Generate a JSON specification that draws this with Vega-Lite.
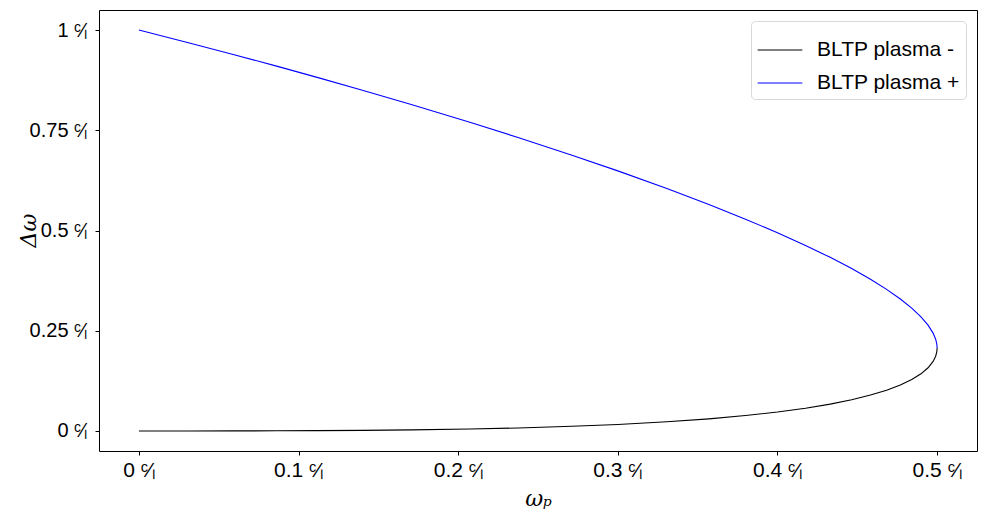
{
  "$schema": "https://vega.github.io/schema/vega-lite/v6.json",
  "width": 878,
  "height": 441,
  "autosize": {"type": "none"},
  "padding": {"left": 99, "top": 10, "right": 20, "bottom": 61},
  "background": "white",
  "config": {
    "view": {"stroke": "black", "strokeWidth": 1},
    "font": "Liberation Sans"
  },
  "datasets": {
    "curves": [
      {"series": "BLTP plasma +", "x": 0, "y": 1},
      {"series": "BLTP plasma +", "x": 0.031607, "y": 0.967893},
      {"series": "BLTP plasma +", "x": 0.059057, "y": 0.939192},
      {"series": "BLTP plasma +", "x": 0.086277, "y": 0.909966},
      {"series": "BLTP plasma +", "x": 0.111102, "y": 0.882628},
      {"series": "BLTP plasma +", "x": 0.14, "y": 0.849949},
      {"series": "BLTP plasma +", "x": 0.170587, "y": 0.814299},
      {"series": "BLTP plasma +", "x": 0.207304, "y": 0.769937},
      {"series": "BLTP plasma +", "x": 0.237487, "y": 0.732049},
      {"series": "BLTP plasma +", "x": 0.271293, "y": 0.687873},
      {"series": "BLTP plasma +", "x": 0.3, "y": 0.648683},
      {"series": "BLTP plasma +", "x": 0.330719, "y": 0.604695},
      {"series": "BLTP plasma +", "x": 0.357071, "y": 0.564883},
      {"series": "BLTP plasma +", "x": 0.379967, "y": 0.528328},
      {"series": "BLTP plasma +", "x": 0.4, "y": 0.494427},
      {"series": "BLTP plasma +", "x": 0.417582, "y": 0.462759},
      {"series": "BLTP plasma +", "x": 0.433013, "y": 0.433013},
      {"series": "BLTP plasma +", "x": 0.446514, "y": 0.404955},
      {"series": "BLTP plasma +", "x": 0.458258, "y": 0.378402},
      {"series": "BLTP plasma +", "x": 0.468375, "y": 0.353209},
      {"series": "BLTP plasma +", "x": 0.47697, "y": 0.329256},
      {"series": "BLTP plasma +", "x": 0.484123, "y": 0.306446},
      {"series": "BLTP plasma +", "x": 0.489898, "y": 0.284699},
      {"series": "BLTP plasma +", "x": 0.494343, "y": 0.263945},
      {"series": "BLTP plasma +", "x": 0.497494, "y": 0.244126},
      {"series": "BLTP plasma +", "x": 0.499099, "y": 0.228912},
      {"series": "BLTP plasma +", "x": 0.499775, "y": 0.21786},
      {"series": "BLTP plasma +", "x": 0.499975, "y": 0.210659},
      {"series": "BLTP plasma +", "x": 0.5, "y": 0.207107},
      {"series": "BLTP plasma -", "x": 0, "y": 0},
      {"series": "BLTP plasma -", "x": 0.031607, "y": 0.000016},
      {"series": "BLTP plasma -", "x": 0.059057, "y": 0.000104},
      {"series": "BLTP plasma -", "x": 0.086277, "y": 0.000326},
      {"series": "BLTP plasma -", "x": 0.111102, "y": 0.000701},
      {"series": "BLTP plasma -", "x": 0.14, "y": 0.001421},
      {"series": "BLTP plasma -", "x": 0.170587, "y": 0.002618},
      {"series": "BLTP plasma -", "x": 0.207304, "y": 0.004828},
      {"series": "BLTP plasma -", "x": 0.237487, "y": 0.007462},
      {"series": "BLTP plasma -", "x": 0.271293, "y": 0.01155},
      {"series": "BLTP plasma -", "x": 0.3, "y": 0.016228},
      {"series": "BLTP plasma -", "x": 0.330719, "y": 0.022834},
      {"series": "BLTP plasma -", "x": 0.357071, "y": 0.030227},
      {"series": "BLTP plasma -", "x": 0.379967, "y": 0.038363},
      {"series": "BLTP plasma -", "x": 0.4, "y": 0.047214},
      {"series": "BLTP plasma -", "x": 0.417582, "y": 0.05676},
      {"series": "BLTP plasma -", "x": 0.433013, "y": 0.066987},
      {"series": "BLTP plasma -", "x": 0.446514, "y": 0.07789},
      {"series": "BLTP plasma -", "x": 0.458258, "y": 0.089465},
      {"series": "BLTP plasma -", "x": 0.468375, "y": 0.101713},
      {"series": "BLTP plasma -", "x": 0.47697, "y": 0.114638},
      {"series": "BLTP plasma -", "x": 0.484123, "y": 0.128249},
      {"series": "BLTP plasma -", "x": 0.489898, "y": 0.142558},
      {"series": "BLTP plasma -", "x": 0.494343, "y": 0.157577},
      {"series": "BLTP plasma -", "x": 0.497494, "y": 0.173326},
      {"series": "BLTP plasma -", "x": 0.499099, "y": 0.186466},
      {"series": "BLTP plasma -", "x": 0.499775, "y": 0.196644},
      {"series": "BLTP plasma -", "x": 0.499975, "y": 0.203587},
      {"series": "BLTP plasma -", "x": 0.5, "y": 0.207107}
    ]
  },
  "data": {"name": "curves"},
  "mark": {"type": "line", "strokeWidth": 1.1, "clip": true},
  "encoding": {
    "x": {
      "field": "x",
      "type": "quantitative",
      "scale": {"domain": [-0.025, 0.525], "nice": false, "zero": false},
      "axis": {
        "title": "ωₚ",
        "titleFont": "DejaVu Serif",
        "titleFontStyle": "italic",
        "titleFontWeight": "normal",
        "titleFontSize": 22,
        "titlePadding": 8,
        "values": [0, 0.1, 0.2, 0.3, 0.4, 0.5],
        "labelExpr": "datum.value + ' ᶜ⁄ₗ'",
        "labelFontSize": 21,
        "labelColor": "black",
        "labelPadding": 4,
        "grid": false,
        "domain": false,
        "tickColor": "black",
        "tickSize": 4
      }
    },
    "y": {
      "field": "y",
      "type": "quantitative",
      "scale": {"domain": [-0.05, 1.05], "nice": false, "zero": false},
      "axis": {
        "title": "Δω",
        "titleFont": "DejaVu Serif",
        "titleFontStyle": "italic",
        "titleFontWeight": "normal",
        "titleFontSize": 22,
        "titleX": -59,
        "titleY": 220,
        "titleAngle": -90,
        "titleBaseline": "bottom",
        "values": [0, 0.25, 0.5, 0.75, 1],
        "labelExpr": "datum.value + ' ᶜ⁄ₗ'",
        "labelFontSize": 20,
        "labelColor": "black",
        "labelPadding": 8,
        "grid": false,
        "domain": false,
        "tickColor": "black",
        "tickSize": 4
      }
    },
    "color": {
      "field": "series",
      "type": "nominal",
      "scale": {"domain": ["BLTP plasma -", "BLTP plasma +"], "range": ["#000000", "#0000ff"]},
      "legend": {
        "title": null,
        "orient": "top-right",
        "offset": 11,
        "symbolType": "stroke",
        "symbolSize": 2000,
        "symbolStrokeWidth": 1,
        "labelFontSize": 21,
        "labelColor": "black",
        "labelOffset": 14,
        "rowPadding": 0,
        "padding": 6,
        "fillColor": "white",
        "strokeColor": "#d8d8d8",
        "cornerRadius": 4
      }
    }
  }
}
